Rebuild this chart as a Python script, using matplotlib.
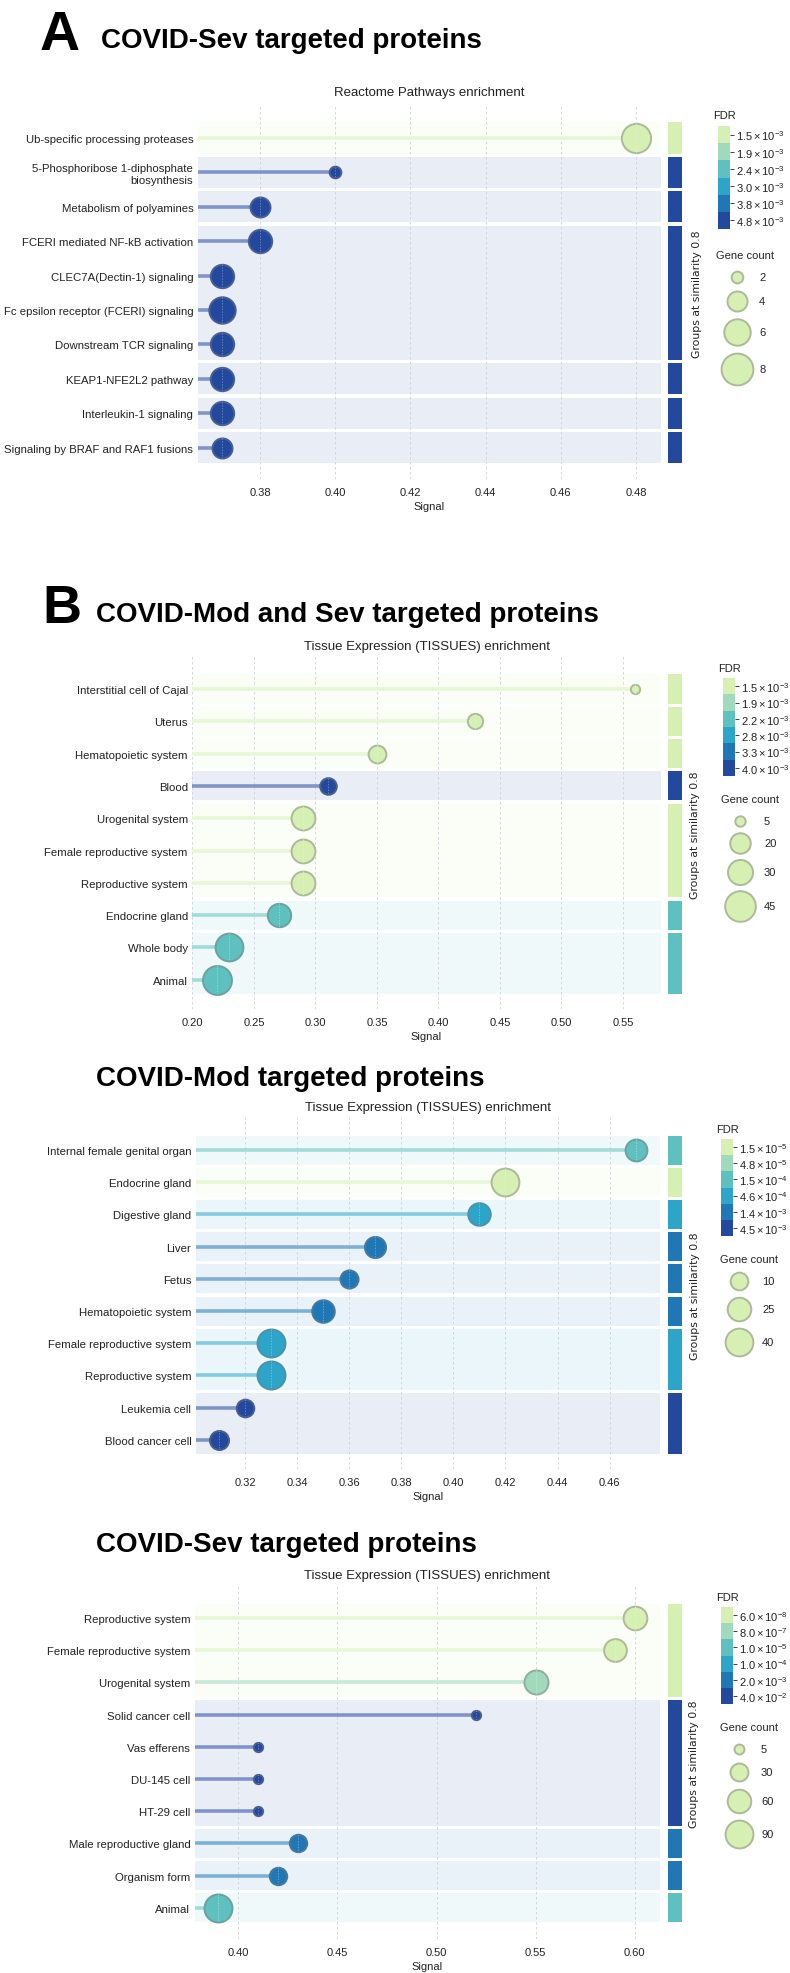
import numpy as np
import matplotlib
matplotlib.use("Agg")
import matplotlib.pyplot as plt
from matplotlib.colors import to_rgb

plt.rcParams['font.family'] = ['Liberation Sans', 'DejaVu Sans']
plt.rcParams['mathtext.fontset'] = 'custom'
plt.rcParams['mathtext.rm'] = 'Liberation Sans'
plt.rcParams['mathtext.it'] = 'Liberation Sans:italic'
plt.rcParams['mathtext.bf'] = 'Liberation Sans:bold'

# ---------------- data ----------------
# A: COVID-Sev, Reactome
a_terms = ["Ub-specific processing proteases", "5-Phosphoribose 1-diphosphate\nbiosynthesis",
           "Metabolism of polyamines", "FCERI mediated NF-kB activation",
           "CLEC7A(Dectin-1) signaling", "Fc epsilon receptor (FCERI) signaling",
           "Downstream TCR signaling", "KEAP1-NFE2L2 pathway",
           "Interleukin-1 signaling", "Signaling by BRAF and RAF1 fusions"]
a_signal = [0.48, 0.40, 0.38, 0.38, 0.37, 0.37, 0.37, 0.37, 0.37, 0.37]
a_count = [7, 2, 4, 5, 5, 6, 5, 5, 5, 4]
a_fdr = [1.5e-3, 4.8e-3, 4.8e-3, 4.8e-3, 4.8e-3, 4.8e-3, 4.8e-3, 4.8e-3, 4.8e-3, 4.8e-3]
a_group = [0, 1, 2, 3, 3, 3, 3, 4, 5, 6]
a_fdr_levels = [1.5e-3, 1.9e-3, 2.4e-3, 3.0e-3, 3.8e-3, 4.8e-3]
a_size_ticks = [2, 4, 6, 8]
a_xticks = [0.38, 0.40, 0.42, 0.44, 0.46, 0.48]

# B: COVID-Mod and Sev, TISSUES
b_terms = ["Interstitial cell of Cajal", "Uterus", "Hematopoietic system", "Blood",
           "Urogenital system", "Female reproductive system", "Reproductive system",
           "Endocrine gland", "Whole body", "Animal"]
b_signal = [0.56, 0.43, 0.35, 0.31, 0.29, 0.29, 0.29, 0.27, 0.23, 0.22]
b_count = [4, 11, 15, 13, 27, 27, 27, 26, 37, 40]
b_fdr = [1.5e-3, 1.5e-3, 1.5e-3, 4.0e-3, 1.5e-3, 1.5e-3, 1.5e-3, 2.2e-3, 2.2e-3, 2.2e-3]
b_group = [0, 1, 2, 3, 4, 4, 4, 5, 6, 6]
b_fdr_levels = [1.5e-3, 1.9e-3, 2.2e-3, 2.8e-3, 3.3e-3, 4.0e-3]
b_size_ticks = [5, 20, 30, 45]
b_xticks = [0.20, 0.25, 0.30, 0.35, 0.40, 0.45, 0.50, 0.55]

# C: COVID-Mod, TISSUES
c_terms = ["Internal female genital organ", "Endocrine gland", "Digestive gland", "Liver",
           "Fetus", "Hematopoietic system", "Female reproductive system",
           "Reproductive system", "Leukemia cell", "Blood cancer cell"]
c_signal = [0.47, 0.42, 0.41, 0.37, 0.36, 0.35, 0.33, 0.33, 0.32, 0.31]
c_count = [20, 40, 22, 18, 11, 22, 41, 41, 10, 13]
c_fdr = [1.5e-4, 1.5e-5, 4.6e-4, 1.4e-3, 1.4e-3, 1.4e-3, 4.6e-4, 4.6e-4, 4.5e-3, 4.5e-3]
c_group = [0, 1, 2, 3, 4, 5, 6, 6, 7, 7]
c_fdr_levels = [1.5e-5, 4.8e-5, 1.5e-4, 4.6e-4, 1.4e-3, 4.5e-3]
c_size_ticks = [10, 25, 40]
c_xticks = [0.32, 0.34, 0.36, 0.38, 0.40, 0.42, 0.44, 0.46]

# D: COVID-Sev, TISSUES
d_terms = ["Reproductive system", "Female reproductive system", "Urogenital system",
           "Solid cancer cell", "Vas efferens", "DU-145 cell", "HT-29 cell",
           "Male reproductive gland", "Organism form", "Animal"]
d_signal = [0.60, 0.59, 0.55, 0.52, 0.41, 0.41, 0.41, 0.43, 0.42, 0.39]
d_count = [61, 55, 63, 4, 4, 4, 4, 28, 28, 91]
d_fdr = [6.0e-8, 6.0e-8, 8.0e-7, 4.0e-2, 4.0e-2, 4.0e-2, 4.0e-2, 2.0e-3, 2.0e-3, 1.0e-5]
d_group = [0, 0, 0, 1, 1, 1, 1, 2, 3, 4]
d_fdr_levels = [6.0e-8, 8.0e-7, 1.0e-5, 1.0e-4, 2.0e-3, 4.0e-2]
d_size_ticks = [5, 30, 60, 90]
d_xticks = [0.40, 0.45, 0.50, 0.55, 0.60]

# ---------------- style ----------------
fdr_colors = ['#d6efb3', '#a0d9bc', '#5fc1bf', '#2ca5c8', '#1f78b5', '#23499f']
W, H = 790, 1974
fig = plt.figure(figsize=(W / 100, H / 100), dpi=100)
over = fig.add_axes([0, 0, 1, 1])
over.set_xlim(0, W)
over.set_ylim(H, 0)
over.axis('off')


def box(x0, y0, x1, y1):
    return [x0 / W, 1 - y1 / H, (x1 - x0) / W, (y1 - y0) / H]


def mix(c, other, t):
    c = np.array(to_rgb(c))
    o = np.array(to_rgb(other))
    return tuple(c * (1 - t) + o * t)


def fdr_label(v):
    e = int(np.floor(np.log10(v) + 1e-9))
    m = v / 10 ** e
    return r'$\mathregular{%.1f\times10^{%d}}$' % (m, e)


def panel(terms, signal, count, fdr, group, levels, size_ticks, legend_d, xticks, xfmt,
          ax_px, row0, step, lay):
    n = len(terms)
    x0, y0, x1, y1 = ax_px
    ax = fig.add_axes(box(x0, y0, x1, y1))
    # x scale from tick positions
    tpx0, tval0, tpx1, tval1 = lay['xcal']
    scale = (tpx1 - tpx0) / (tval1 - tval0)
    xlim = (tval0 - (tpx0 - x0) / scale, tval1 + (x1 - tpx1) / scale)
    ax.set_xlim(*xlim)
    ax.set_ylim((y1 - row0) / step, (y0 - row0) / step)

    lv = np.log10(levels)
    cidx = [int(np.argmin(np.abs(lv - np.log10(f)))) for f in fdr]

    # size: linear fit of legend diameter vs sqrt(count)
    b, a = np.polyfit(np.sqrt(size_ticks), legend_d, 1)
    diam = lambda c: a + b * np.sqrt(c)

    # group bands + side bars
    bar = fig.add_axes(box(668, y0, 682, y1))
    bar.set_ylim(ax.get_ylim())
    bar.set_xlim(0, 1)
    bar.axis('off')
    gap = 1.6 / step
    groups = []
    for i, g in enumerate(group):
        if groups and groups[-1][0] == g:
            groups[-1][2] = i
        else:
            groups.append([g, i, i])
    for g, i0, i1 in groups:
        gc = fdr_colors[min(cidx[i0:i1 + 1])]
        ax.axhspan(i0 - 0.5 + gap, i1 + 0.5 - gap, color=mix(gc, 'white', 0.9), lw=0, zorder=0.2)
        bar.axhspan(i0 - 0.5 + gap, i1 + 0.5 - gap, color=gc, lw=0)

    for i in range(n):
        col = fdr_colors[cidx[i]]
        stem = mix(col, 'white', 0.42)
        d = diam(count[i])
        ax.plot([xlim[0], signal[i]], [i, i], color=stem, lw=2.6, solid_capstyle='butt', zorder=2)
        ax.scatter(signal[i], i, s=(d * 0.72) ** 2, color=col, edgecolors=mix(col, '#7a7a7a', 0.45),
                   linewidths=1.4, zorder=3, clip_on=False)
        r = d / 2 / step
        ax.plot([signal[i], signal[i]], [i - r, i + r], color=stem, lw=0.5, ls=(0, (2, 2)), zorder=4)

    ax.set_xticks(xticks)
    ax.set_xticklabels([xfmt % t for t in xticks])
    ax.set_yticks(range(n))
    ax.set_yticklabels(terms, multialignment='right')
    ax.tick_params(length=0, labelsize=8, colors='#222222')
    ax.tick_params(axis='y', labelsize=8.2, pad=3)
    ax.tick_params(axis='x', pad=6)
    ax.grid(axis='x', ls=(0, (3, 3)), color='#cfd1d9', lw=0.6)
    ax.set_axisbelow(True)
    for s in ax.spines.values():
        s.set_visible(False)
    ax.set_facecolor('none')
    ax.set_xlabel('Signal', fontsize=8, color='#222222', labelpad=3)

    # subtitle
    over.text(lay['sub'][0], lay['sub'][1], lay['subtitle'], ha='center', va='center',
              fontsize=9.5, color='#222222')
    # group label
    band_mid = row0 + step * (n - 1) / 2
    over.text(lay['glx'], band_mid, 'Groups at similarity 0.8', rotation=90, ha='center',
              va='center', fontsize=7.8, color='#222222', family='DejaVu Sans')

    # FDR colour legend
    fx, fy = lay['fdr_title']
    over.text(fx, fy, 'FDR', ha='left', va='center', fontsize=8, color='#222222')
    cx0, cy0, cx1, cy1 = lay['cbar']
    cax = fig.add_axes(box(cx0, cy0, cx1, cy1))
    for k in range(len(levels)):
        cax.axhspan(k - 0.5, k + 0.5, color=fdr_colors[k], lw=0)
    cax.set_ylim(len(levels) - 0.5, -0.5)
    cax.set_xlim(0, 1)
    cax.set_xticks([])
    cax.yaxis.tick_right()
    cax.set_yticks(range(len(levels)))
    cax.set_yticklabels([fdr_label(v) for v in levels])
    cax.tick_params(axis='y', length=3, width=0.7, color='#444444', labelsize=8,
                    labelcolor='#222222', pad=1.5)
    for s in cax.spines.values():
        s.set_visible(False)

    # gene count legend
    gx, gy = lay['gene_title']
    over.text(gx, gy, 'Gene count', ha='left', va='center', fontsize=8, color='#222222')
    lc = fdr_colors[0]
    for c, yy in zip(size_ticks, lay['gene_y']):
        d = diam(c)
        over.scatter(lay['gene_x'], yy, s=(d * 0.72) ** 2, color=lc,
                     edgecolors=mix(lc, '#7a7a7a', 0.45), linewidths=1.4)
        over.text(lay['gene_lx'], yy, str(c), ha='left', va='center', fontsize=8, color='#222222')
    return ax


# ---------------- titles ----------------
over.text(40, 50, 'A', fontsize=40, fontweight='bold', ha='left', va='baseline')
over.text(101, 48, 'COVID-Sev targeted proteins', fontsize=20, fontweight='bold', ha='left', va='baseline')
over.text(42, 623, 'B', fontsize=39, fontweight='bold', ha='left', va='baseline')
over.text(96, 622, 'COVID-Mod and Sev targeted proteins', fontsize=20, fontweight='bold', ha='left', va='baseline')
over.text(96, 1086, 'COVID-Mod targeted proteins', fontsize=20, fontweight='bold', ha='left', va='baseline')
over.text(96, 1552, 'COVID-Sev targeted proteins', fontsize=20, fontweight='bold', ha='left', va='baseline')

panel(a_terms, a_signal, a_count, a_fdr, a_group, a_fdr_levels, a_size_ticks, [11, 21, 27, 31],
      a_xticks, '%.2f', (197.5, 105, 661, 480), 139, 34.4,
      dict(xcal=(260, 0.38, 636, 0.48), sub=(429, 93), subtitle='Reactome Pathways enrichment',
           glx=697, fdr_title=(713, 116), cbar=(718, 127, 730, 230),
           gene_title=(716, 256), gene_x=737, gene_y=[278, 302, 333, 370], gene_lx=759))

panel(b_terms, b_signal, b_count, b_fdr, b_group, b_fdr_levels, b_size_ticks, [11, 19, 25.7, 31],
      b_xticks, '%.2f', (192, 657, 661, 1010), 690, 32.3,
      dict(xcal=(192.4, 0.20, 623, 0.55), sub=(427, 647), subtitle='Tissue Expression (TISSUES) enrichment',
           glx=695, fdr_title=(718, 669), cbar=(723, 679, 735, 777),
           gene_title=(721, 800), gene_x=740, gene_y=[822, 844, 873, 907], gene_lx=764))

panel(c_terms, c_signal, c_count, c_fdr, c_group, c_fdr_levels, c_size_ticks, [17.6, 23.7, 27.7],
      c_xticks, '%.2f', (195.5, 1118, 660, 1470), 1151, 32.2,
      dict(xcal=(245, 0.32, 609.6, 0.46), sub=(428, 1108), subtitle='Tissue Expression (TISSUES) enrichment',
           glx=695, fdr_title=(716, 1130), cbar=(721, 1140, 733, 1237),
           gene_title=(720, 1260), gene_x=739, gene_y=[1282, 1310, 1343], gene_lx=762))

panel(d_terms, d_signal, d_count, d_fdr, d_group, d_fdr_levels, d_size_ticks, [10, 17.6, 24, 27.7],
      d_xticks, '%.2f', (194.5, 1587, 660, 1940), 1619, 32.2,
      dict(xcal=(238.3, 0.40, 634.8, 0.60), sub=(427, 1576), subtitle='Tissue Expression (TISSUES) enrichment',
           glx=694, fdr_title=(716, 1598), cbar=(721, 1608, 733, 1705),
           gene_title=(720, 1728), gene_x=739, gene_y=[1750, 1773, 1802, 1835], gene_lx=761))

fig.savefig('out.png', dpi=100)
